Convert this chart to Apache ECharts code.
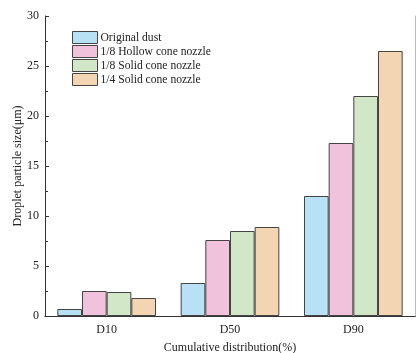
<!DOCTYPE html>
<html><head><meta charset="utf-8">
<script src="https://cdn.jsdelivr.net/npm/echarts@6/dist/echarts.min.js"></script>
<style>html,body{margin:0;padding:0;background:#fff}#c{width:417px;height:353px}</style>
</head><body><div id="c"></div>
<script>
const categories = ['D10', 'D50', 'D90'];
const seriesNames = ['Original dust', '1/8 Hollow cone nozzle', '1/8 Solid cone nozzle', '1/4 Solid cone nozzle'];
const originalDust = [0.7, 3.3, 12.0];
const hollow18 = [2.5, 7.6, 17.3];
const solid18 = [2.4, 8.5, 22.0];
const solid14 = [1.8, 8.9, 26.5];
const yTicks = [0, 5, 10, 15, 20, 25, 30];
const colors = ['#b9e1f5', '#f0c2db', '#d2e7c7', '#f3d4b3'];
const values = [originalDust, hollow18, solid18, solid14];
const font = 'Liberation Serif';
const chart = echarts.init(document.getElementById('c'));
chart.setOption({
  animation: false,
  textStyle: {fontFamily: font},
  grid: {left: 45, top: 16, right: 2, bottom: 37, outerBoundsMode: 'none', containLabel: false},
  legend: {
    left: 72, top: 31, padding: 0, orient: 'vertical', itemWidth: 25, itemHeight: 12, itemGap: 1, icon: 'rect',
    textStyle: {fontFamily: font, fontSize: 11.6, color: '#222', padding: [0, 0, 0, -2]},
    data: seriesNames.map((n, i) => ({name: n, itemStyle: {color: colors[i], borderColor: '#444', borderWidth: 1}}))
  },
  xAxis: [{
    type: 'category', data: categories,
    name: 'Cumulative distribution(%)', nameLocation: 'middle', nameGap: 26,
    nameTextStyle: {fontFamily: font, fontSize: 12, color: '#222'},
    axisLine: {lineStyle: {color: '#333', width: 1}},
    axisTick: {inside: true, length: 4, lineStyle: {color: '#333'}},
    axisLabel: {fontFamily: font, fontSize: 12, color: '#222', margin: 8}
  }, {
    type: 'category', data: categories, position: 'top',
    axisLine: {lineStyle: {color: '#333', width: 1}},
    axisTick: {show: false}, axisLabel: {show: false}
  }],
  yAxis: [{
    type: 'value', min: 0, max: 30, interval: 5,
    name: 'Droplet particle size(μm)', nameLocation: 'middle', nameGap: 21, nameMoveOverlap: false,
    nameTextStyle: {fontFamily: font, fontSize: 12, color: '#222'},
    axisLine: {show: true, lineStyle: {color: '#333', width: 1}},
    axisTick: {show: true, inside: true, length: 4, lineStyle: {color: '#333'}},
    minorTick: {show: true, splitNumber: 2, length: 3, lineStyle: {color: '#333'}},
    axisLabel: {fontFamily: font, fontSize: 12, color: '#222', margin: 6,
      formatter: v => yTicks.includes(v) ? String(v) : ''},
    splitLine: {show: false}
  }, {
    type: 'value', min: 0, max: 30, interval: 5, position: 'right',
    axisLine: {show: true, lineStyle: {color: '#bbb', width: 1}},
    axisTick: {show: false}, axisLabel: {show: false}, splitLine: {show: false}
  }],
  series: values.map((d, i) => ({
    name: seriesNames[i], type: 'bar', data: d,
    barGap: '0%', barCategoryGap: '20%',
    itemStyle: {color: colors[i], borderColor: '#444', borderWidth: 1}
  }))
});
</script></body></html>
